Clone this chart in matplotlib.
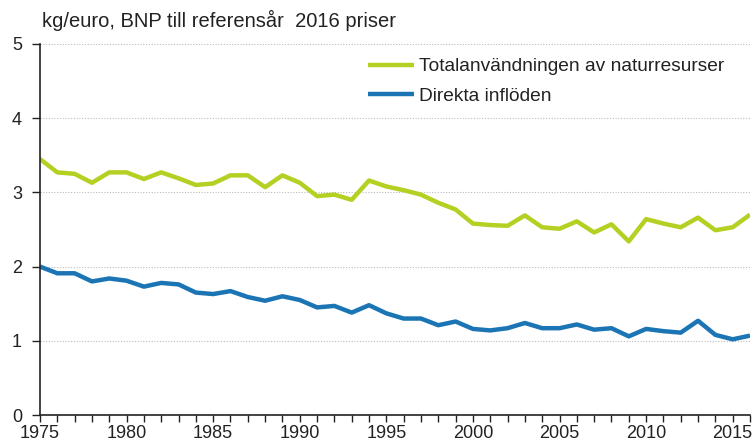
import matplotlib
matplotlib.use("Agg")
import matplotlib.pyplot as plt
from matplotlib.ticker import MultipleLocator

years = list(range(1975, 2017))
total = [3.45, 3.27, 3.25, 3.13, 3.27, 3.27, 3.18, 3.27, 3.19, 3.10,
         3.12, 3.23, 3.23, 3.07, 3.23, 3.13, 2.95, 2.97, 2.90, 3.16,
         3.08, 3.03, 2.97, 2.86, 2.77, 2.58, 2.56, 2.55, 2.69, 2.53,
         2.51, 2.61, 2.46, 2.57, 2.34, 2.64, 2.58, 2.53, 2.66, 2.49,
         2.53, 2.70]
direct = [2.00, 1.91, 1.91, 1.80, 1.84, 1.81, 1.73, 1.78, 1.76, 1.65,
          1.63, 1.67, 1.59, 1.54, 1.60, 1.55, 1.45, 1.47, 1.38, 1.48,
          1.37, 1.30, 1.30, 1.21, 1.26, 1.16, 1.14, 1.17, 1.24, 1.17,
          1.17, 1.22, 1.15, 1.17, 1.06, 1.16, 1.13, 1.11, 1.27, 1.08,
          1.02, 1.07]
labels = ["Totalanvändningen av naturresurser", "Direkta inflöden"]
title = "kg/euro, BNP till referensår  2016 priser"

plt.rcParams['font.family'] = ['Liberation Sans', 'DejaVu Sans']

fig = plt.figure(figsize=(7.56, 4.48), dpi=100)
ax = fig.add_axes([40/756, 33/448, 710/756, 371/448])

ax.plot(years, total, color="#b5cf22", lw=3.2, label=labels[0], solid_capstyle='butt')
ax.plot(years, direct, color="#1b75b5", lw=3.2, label=labels[1], solid_capstyle='butt')

ax.set_xlim(1975, 2016)
ax.set_ylim(0, 5)
ax.xaxis.set_major_locator(MultipleLocator(5))
ax.xaxis.set_minor_locator(MultipleLocator(1))
ax.yaxis.set_major_locator(MultipleLocator(1))
ax.grid(axis='y', color='#bbbbbb', linestyle=(0, (1, 1.5)), lw=0.8)
ax.set_axisbelow(True)
for s in ['top', 'right']:
    ax.spines[s].set_visible(False)
for s in ['left', 'bottom']:
    ax.spines[s].set_color('#222222')
    ax.spines[s].set_linewidth(1.2)
ax.tick_params(axis='x', which='both', direction='out', length=5, width=1.0,
               color='#222222', labelsize=13, labelcolor='#222222', pad=2)
ax.tick_params(axis='y', which='both', direction='out', length=6, width=1.0,
               color='#222222', labelsize=13, labelcolor='#222222', pad=7)

fig.text(42/756, 1 - 20/448, title, fontsize=14.5, color='#222222', va='center', ha='left')

leg = ax.legend(loc='upper left', bbox_to_anchor=(328/710, 1 - 14/371), frameon=False,
                fontsize=13.8, handlelength=2.4, handletextpad=0.25, labelspacing=0.62,
                borderaxespad=0, borderpad=0)
for t in leg.get_texts():
    t.set_color('#222222')

fig.savefig("out.png", dpi=100)
